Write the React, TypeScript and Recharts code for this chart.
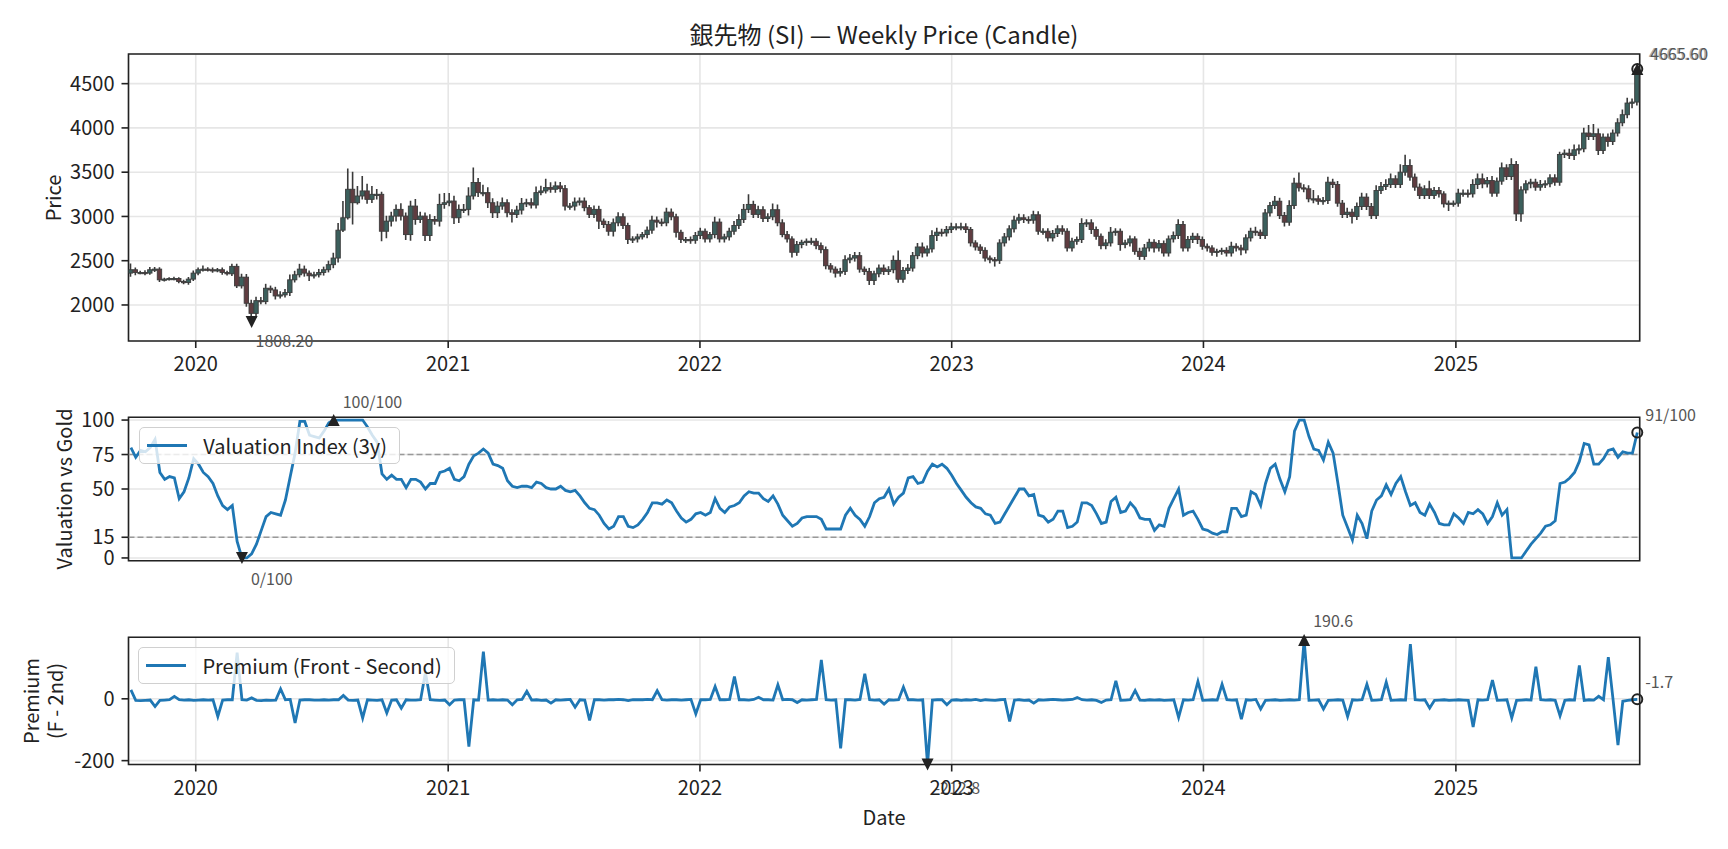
import React from "react";
import {
  ComposedChart, Bar, Line, XAxis, YAxis, CartesianGrid,
  ReferenceLine, ReferenceDot, ReferenceArea, Legend,
} from "recharts";

const FONT = '"Noto Sans CJK JP", "Noto Sans", sans-serif';
const BLUE = "#1f77b4";
const INK = "#222222";
const NOTE = "#555555";

// first weekly bar and the year ticks
const START = Date.UTC(2019, 8, 29);
const WEEK_MS = 7 * 24 * 3600 * 1000;
const YEARS = [2020, 2021, 2022, 2023, 2024, 2025];

const FIRST_OPEN = 2360;

// weekly closes (front month)
const closes = [
  2398, 2367, 2367, 2360, 2398, 2405, 2284, 2292, 2299, 2299,
  2265, 2254, 2292, 2360, 2398, 2405, 2398, 2390, 2398, 2367,
  2352, 2436, 2216, 2314, 2019, 1905, 2049, 2038, 2189, 2170,
  2102, 2114, 2140, 2284, 2341, 2405, 2360, 2330, 2341, 2367,
  2398, 2455, 2530, 2845, 2985, 3307, 3155, 3231, 3288, 3193,
  3250, 3250, 2833, 2947, 3004, 3080, 3004, 2795, 3117, 2966,
  3004, 2784, 2966, 2947, 3136, 3155, 3174, 2985, 3080, 3080,
  3231, 3383, 3269, 3269, 3155, 3042, 3117, 3155, 3042, 3023,
  3072, 3148, 3155, 3129, 3269, 3288, 3326, 3307, 3345, 3314,
  3117, 3117, 3163, 3174, 3099, 3023, 3080, 2947, 2909, 2833,
  2928, 2996, 2898, 2739, 2746, 2769, 2795, 2845, 2958, 2936,
  2928, 3049, 2996, 2821, 2739, 2739, 2731, 2784, 2833, 2746,
  2795, 2936, 2746, 2769, 2833, 2898, 2966, 3080, 3136, 3023,
  3076, 2977, 2996, 3076, 2928, 2795, 2746, 2595, 2682, 2708,
  2720, 2720, 2670, 2625, 2443, 2405, 2360, 2379, 2511, 2530,
  2557, 2405, 2379, 2276, 2352, 2417, 2379, 2398, 2504, 2291,
  2390, 2417, 2557, 2655, 2587, 2633, 2784, 2822, 2814, 2852,
  2883, 2883, 2883, 2852, 2701, 2655, 2617, 2530, 2511, 2504,
  2701, 2769, 2860, 2958, 2985, 2966, 2958, 3019, 2833, 2833,
  2758, 2807, 2860, 2833, 2644, 2720, 2739, 2920, 2928, 2852,
  2776, 2670, 2701, 2822, 2833, 2682, 2701, 2746, 2606, 2549,
  2644, 2708, 2644, 2693, 2587, 2746, 2784, 2909, 2644, 2739,
  2776, 2739, 2663, 2644, 2595, 2606, 2617, 2587, 2663, 2644,
  2622, 2758, 2833, 2822, 2784, 3040, 3123, 3172, 3010, 2935,
  3123, 3376, 3323, 3312, 3199, 3199, 3172, 3180, 3387, 3361,
  3150, 3022, 3048, 2999, 3112, 3218, 3112, 3010, 3293, 3338,
  3361, 3425, 3361, 3500, 3576, 3444, 3331, 3237, 3312, 3237,
  3293, 3255, 3142, 3150, 3150, 3263, 3263, 3255, 3361, 3425,
  3368, 3406, 3263, 3399, 3549, 3451, 3587, 3029, 3300, 3369,
  3387, 3331, 3361, 3369, 3436, 3387, 3700, 3715, 3689, 3753,
  3764, 3942, 3904, 3934, 3745, 3896, 3847, 3942, 4058, 4149,
  4281, 4292, 4665.6,
];

// upper / lower shadow length beyond the body
const wickHi = [
  70, 25, 20, 25, 30, 25, 20, 15, 15, 20,
  15, 20, 25, 30, 25, 40, 20, 25, 20, 25,
  20, 30, 30, 40, 35, 40, 45, 40, 50, 30,
  35, 40, 40, 60, 45, 60, 40, 30, 35, 40,
  35, 45, 60, 80, 190, 235, 197, 114, 170, 80,
  95, 60, 30, 60, 50, 55, 70, 40, 60, 80,
  50, 40, 60, 40, 120, 110, 90, 60, 55, 60,
  100, 170, 50, 90, 60, 50, 55, 60, 40, 40,
  50, 60, 45, 50, 70, 60, 100, 60, 50, 45,
  40, 35, 50, 40, 40, 30, 45, 40, 30, 40,
  50, 50, 40, 30, 30, 35, 30, 40, 50, 40,
  40, 50, 40, 35, 30, 30, 35, 40, 40, 30,
  30, 60, 40, 35, 40, 50, 60, 60, 115, 40,
  45, 40, 40, 70, 60, 40, 40, 30, 40, 30,
  30, 40, 35, 35, 35, 30, 30, 40, 50, 45,
  40, 40, 30, 40, 35, 40, 40, 40, 55, 110,
  40, 45, 40, 45, 50, 40, 60, 50, 40, 40,
  45, 40, 45, 40, 30, 30, 30, 35, 30, 30,
  40, 45, 40, 50, 45, 40, 35, 45, 40, 35,
  35, 40, 40, 40, 35, 40, 35, 60, 40, 40,
  35, 30, 40, 60, 35, 30, 35, 40, 30, 40,
  45, 40, 35, 40, 35, 40, 45, 60, 40, 40,
  40, 35, 35, 30, 30, 30, 30, 35, 50, 35,
  35, 40, 40, 50, 30, 45, 40, 60, 40, 40,
  60, 60, 120, 40, 40, 100, 40, 40, 60, 40,
  40, 35, 50, 40, 45, 50, 45, 40, 60, 50,
  60, 60, 40, 90, 120, 70, 40, 40, 40, 90,
  40, 40, 30, 30, 30, 50, 40, 40, 60, 60,
  60, 40, 50, 40, 60, 40, 70, 40, 40, 40,
  40, 40, 50, 40, 40, 40, 30, 40, 50, 60,
  50, 60, 90, 110, 60, 40, 40, 40, 50, 60,
  60, 40, 15,
];

const wickLo = [
  40, 30, 20, 25, 20, 25, 25, 20, 15, 20,
  20, 20, 25, 20, 25, 20, 20, 25, 20, 25,
  20, 25, 25, 30, 40, 96.8, 50, 30, 30, 35,
  40, 30, 30, 40, 30, 30, 40, 60, 30, 30,
  35, 30, 40, 50, 20, 19, 246, 20, 40, 50,
  40, 60, 113, 80, 60, 60, 50, 60, 70, 60,
  40, 60, 60, 40, 60, 50, 40, 70, 60, 40,
  70, 40, 50, 40, 60, 60, 60, 40, 50, 90,
  40, 50, 40, 40, 40, 30, 30, 40, 40, 40,
  50, 40, 50, 40, 40, 40, 40, 90, 40, 50,
  60, 40, 40, 50, 40, 40, 30, 40, 40, 60,
  40, 40, 40, 60, 40, 40, 40, 40, 40, 40,
  40, 40, 40, 40, 40, 40, 40, 40, 40, 40,
  40, 40, 40, 40, 40, 30, 40, 60, 40, 40,
  40, 40, 40, 40, 40, 40, 50, 40, 40, 40,
  40, 40, 40, 50, 50, 40, 40, 40, 40, 40,
  40, 40, 40, 40, 50, 40, 40, 60, 40, 40,
  40, 40, 40, 40, 40, 40, 40, 40, 40, 70,
  40, 40, 40, 40, 40, 40, 40, 40, 40, 40,
  40, 40, 40, 40, 40, 40, 40, 40, 40, 50,
  40, 40, 40, 40, 40, 70, 40, 40, 40, 40,
  40, 40, 50, 40, 40, 40, 40, 40, 40, 40,
  40, 50, 40, 40, 40, 50, 40, 40, 40, 40,
  60, 40, 40, 40, 40, 40, 40, 40, 40, 50,
  40, 40, 40, 40, 40, 50, 40, 40, 40, 40,
  40, 40, 40, 80, 40, 40, 40, 40, 40, 40,
  40, 40, 40, 40, 40, 40, 40, 40, 40, 40,
  40, 40, 40, 80, 40, 40, 40, 40, 40, 50,
  50, 40, 40, 40, 40, 40, 40, 80, 90, 40,
  50, 40, 40, 40, 40, 40, 40, 40, 40, 50,
  50, 40, 40, 40, 50, 40, 60, 40, 40, 40,
  40, 60, 40,
];

// 3y valuation index vs gold (0-100)
const valuation = [
  80, 73, 78, 77, 80, 86, 62, 57, 59, 58,
  43, 48, 58, 72, 68, 62, 59, 54, 45, 38,
  35, 38, 12, 0, 0, 3, 10, 20, 30, 33,
  32, 31, 42, 59, 76, 99, 99, 89, 88, 87,
  92, 98, 100, 100, 100, 100, 100, 100, 100, 95,
  89, 84, 61, 57, 60, 57, 57, 51, 57, 57,
  55, 50, 54, 54, 62, 63, 65, 57, 56, 59,
  68, 74, 76, 79, 76, 68, 67, 65, 56, 52,
  51, 52, 52, 51, 55, 54, 51, 50, 50, 52,
  49, 48, 49, 45, 40, 36, 35, 31, 25, 21,
  23, 30, 30, 23, 22, 24, 28, 33, 40, 40,
  39, 42, 40, 34, 29, 26, 28, 32, 33, 31,
  33, 43, 36, 33, 37, 38, 40, 45, 48, 47,
  47, 43, 41, 45, 39, 31, 27, 23, 25, 29,
  30, 30, 30, 28, 21, 21, 21, 21, 31, 36,
  31, 28, 23, 30, 40, 43, 44, 50, 39, 44,
  47, 58, 59, 54, 55, 63, 68, 66, 68, 65,
  60, 54, 49, 44, 40, 37, 36, 32, 31, 25,
  26, 32, 38, 44, 50, 50, 45, 46, 31, 30,
  26, 28, 34, 34, 22, 23, 26, 40, 40, 38,
  32, 25, 26, 41, 44, 33, 34, 40, 36, 29,
  28, 28, 20, 24, 23, 36, 43, 50, 31, 33,
  34, 28, 21, 20, 18, 17, 19, 19, 36, 36,
  30, 31, 48, 46, 38, 54, 65, 68, 57, 48,
  59, 92, 100, 100, 88, 79, 78, 71, 84, 76,
  54, 31, 22, 13, 31, 25, 14, 34, 42, 45,
  53, 46, 54, 59, 48, 38, 40, 33, 31, 39,
  33, 25, 24, 24, 32, 29, 25, 33, 32, 35,
  32, 25, 30, 40, 31, 35, 0, 0, 0, 5,
  10, 14, 18, 23, 24, 27, 54, 55, 58, 62,
  70, 83, 82, 68, 68, 72, 78, 79, 73, 77,
  76, 76, 91,
];

// front minus second contract
const premium = [
  29, -5, -6, -5, -4, -25, -5, -4, -3, 8,
  -3, -4, -3, -5, -4, -3, -4, -3, -57, -4,
  -3, -3, 149, -3, -4, 3, -5, -6, -4, -5,
  -4, 32, -3, -2, -78, -4, -3, -3, -4, -4,
  -3, -4, -3, -3, 11, -4, -5, -4, -62, -3,
  -4, -5, -3, -46, -4, -3, -30, -3, -4, -4,
  -3, 85, -3, -4, -5, -4, -19, -4, -3, -3,
  -155, -3, -4, 153, -4, -3, -4, -3, -4, -19,
  -3, -2, 24, -4, -3, -5, -4, -14, -3, -4,
  -3, -2, -27, -3, -4, -70, -3, -3, -4, -3,
  -3, -2, -3, -6, -3, -3, -3, -2, -3, 26,
  -3, -4, -3, -3, -4, -3, -2, -49, -3, -3,
  -2, 40, -3, -3, -2, 72, -3, -3, -4, -2,
  5, -3, -3, -4, 45, -3, -2, -3, -12, -3,
  -4, -3, -2, 126, -3, -4, -3, -160, -3, -3,
  -4, -2, 81, -3, -4, -3, -17, -3, -4, -3,
  38, -3, -3, -4, -3, -212.8, -4, -3, -3, -19,
  -4, -3, -5, -3, -4, -2, -6, -3, -4, -5,
  -3, -2, -73, -4, -3, -5, -4, -14, -3, -4,
  -3, -2, -3, -4, -3, -2, 4, -3, -4, -3,
  -5, -12, -4, -3, 58, -5, -4, -3, 27, -4,
  -5, -3, -4, -3, -5, -4, -3, -60, -3, -4,
  -3, 56, -5, -4, -3, -4, 47, -3, -4, -3,
  -66, -3, -4, -2, -33, -5, -4, -3, -5, -4,
  -3, -4, -3, 190.6, -5, -4, -3, -33, -5, -4,
  -3, -4, -57, -3, -4, -3, 47, -5, -4, -3,
  54, -5, -4, -3, -4, 177, -3, -4, -3, -30,
  -5, -4, -3, -5, -4, -3, -4, -5, -91, -3,
  -4, -3, 61, -5, -4, -3, -62, -5, -4, -3,
  -4, 104, -3, -4, -3, -5, -55, -5, -3, -4,
  108, -5, -3, -4, 8, -3, 135, -5, -150, -8,
  -5, -3, -1.7,
];

const priceTicks = [2000, 2500, 3000, 3500, 4000, 4500];
const valTicks = [0, 15, 50, 75, 100];
const premTicks = [-200, 0];
const PRICE_DOMAIN = [1593, 4835];
const VAL_DOMAIN = [-2, 102];
const PREM_DOMAIN = [-212.5, 199];

const rows = closes.map((close, i) => {
  const open = i === 0 ? FIRST_OPEN : closes[i - 1];
  const high = Math.max(open, close) + wickHi[i];
  const low = Math.min(open, close) - wickLo[i];
  return { i, open, close, high, low, range: [low, high], val: valuation[i], prem: premium[i] };
});

const last = rows.length - 1;
const X_DOMAIN = [-0.5, last + 0.5];
const yearTicks = YEARS.map((y) => (Date.UTC(y, 0, 1) - START) / WEEK_MS);

const argBy = (arr: number[], better: (a: number, b: number) => boolean) =>
  arr.reduce((best, v, i) => (better(v, arr[best]) ? i : best), 0);

const lowIdx = argBy(rows.map((r) => r.low), (a, b) => a < b);
const valMaxIdx = argBy(valuation, (a, b) => a > b);
const valMinIdx = argBy(valuation, (a, b) => a < b);
const premMaxIdx = argBy(premium, (a, b) => a > b);
const premMinIdx = argBy(premium, (a, b) => a < b);

const W = 1728;
const Y_AXIS_W = 128.5;
const RIGHT = 88.3;

const tickStyle = { fontSize: 20, fill: INK, fontFamily: FONT };
const tickLine = { stroke: INK, strokeWidth: 1.6 };

const Candle = (props: any) => {
  const { x, y, width, height, payload } = props;
  if (!payload) return null;
  const top = Math.min(y, y + height);
  const h = Math.abs(height);
  const span = payload.high - payload.low || 1;
  const py = (v: number) => top + ((payload.high - v) / span) * h;
  const cx = x + width / 2;
  const yo = py(payload.open);
  const yc = py(payload.close);
  const up = payload.close >= payload.open;
  return (
    <g>
      <line x1={cx} x2={cx} y1={top} y2={top + h} stroke="#3a3a3a" strokeWidth={1.6} />
      <rect
        x={cx - 2.2}
        y={Math.min(yo, yc)}
        width={4.4}
        height={Math.max(Math.abs(yo - yc), 1.2)}
        fill={up ? "#3b5f5c" : "#5f3c40"}
        stroke="#3c3c3c"
        strokeWidth={0.9}
      />
    </g>
  );
};

type Kind = "up" | "down" | "ring";

const marker = (kind: Kind, text: string, dx: number, dy: number, ghost = false) => (props: any) => {
  const { cx, cy } = props;
  let mark;
  if (kind === "up") {
    mark = <path d={`M${cx},${cy - 6} L${cx + 6},${cy + 6} L${cx - 6},${cy + 6} Z`} fill={INK} />;
  } else if (kind === "down") {
    mark = <path d={`M${cx},${cy + 6} L${cx + 6},${cy - 6} L${cx - 6},${cy - 6} Z`} fill={INK} />;
  } else {
    mark = <circle cx={cx} cy={cy} r={5} fill="none" stroke={INK} strokeWidth={2} />;
  }
  return (
    <g>
      {mark}
      {ghost && (
        <text x={cx + dx - 1.5} y={cy + dy} fontSize={16} fill="#aaaaaa" fontFamily={FONT} dominantBaseline="central">
          {text}
        </text>
      )}
      <text x={cx + dx} y={cy + dy} fontSize={16} fill={NOTE} fontFamily={FONT} dominantBaseline="central">
        {text}
      </text>
    </g>
  );
};

const LegendBox = ({ label }: { label: string }) => (
  <div
    style={{
      display: "flex",
      alignItems: "center",
      border: "1.5px solid #d0d0d0",
      borderRadius: 5,
      background: "rgba(255,255,255,0.8)",
      padding: "3px 12px 3px 7px",
      fontFamily: FONT,
      fontSize: 20,
      color: INK,
      whiteSpace: "nowrap",
      lineHeight: "29px",
    }}
  >
    <span style={{ display: "inline-block", width: 40, height: 3, background: BLUE, marginRight: 16 }} />
    {label}
  </div>
);

const Txt = ({ x, y, size = 20, rotate = false, children }: any) => (
  <div
    style={{
      position: "absolute",
      left: x,
      top: y,
      transform: `translate(-50%, -50%)${rotate ? " rotate(-90deg)" : ""}`,
      fontFamily: FONT,
      fontSize: size,
      color: INK,
      whiteSpace: "nowrap",
      lineHeight: 1.2,
      textAlign: "center",
    }}
  >
    {children}
  </div>
);

const xAxisProps = {
  dataKey: "i",
  type: "number" as const,
  domain: X_DOMAIN,
  ticks: yearTicks,
  interval: 0 as const,
  allowDataOverflow: true,
  axisLine: false,
  tickLine,
  tickSize: 7,
};

const box = (domain: number[]) => (
  <ReferenceArea
    x1={X_DOMAIN[0]}
    x2={X_DOMAIN[1]}
    y1={domain[0]}
    y2={domain[1]}
    fill="none"
    fillOpacity={0}
    stroke={INK}
    strokeWidth={1.6}
    ifOverflow="visible"
  />
);

export default function App() {
  return (
    <div style={{ position: "relative", width: W, height: 849, background: "#fff", overflow: "hidden" }}>
      <style>{`body{margin:0}`}</style>

      <Txt x={884} y={34} size={24}>銀先物 (SI) — Weekly Price (Candle)</Txt>

      <div style={{ position: "absolute", left: 0, top: 0 }}>
        <ComposedChart width={W} height={380} data={rows} margin={{ top: 54, right: RIGHT, bottom: 0, left: 0 }}>
          <CartesianGrid stroke="#e6e6e6" strokeWidth={1.6} />
          <XAxis
            {...xAxisProps}
            height={39}
            tickMargin={9}
            tick={tickStyle}
            tickFormatter={(_v: number, k: number) => String(YEARS[k])}
          />
          <YAxis
            type="number"
            domain={PRICE_DOMAIN}
            ticks={priceTicks}
            interval={0}
            allowDataOverflow
            width={Y_AXIS_W}
            axisLine={false}
            tickLine={tickLine}
            tickSize={7}
            tickMargin={7}
            tick={tickStyle}
          />
          <Bar dataKey="range" barSize={4} shape={Candle} isAnimationActive={false} />
          {box(PRICE_DOMAIN)}
          <ReferenceDot x={lowIdx} y={rows[lowIdx].low} ifOverflow="visible" shape={marker("down", rows[lowIdx].low.toFixed(2), 4, 18)} />
          <ReferenceDot x={last} y={closes[last]} ifOverflow="visible" shape={marker("up", closes[last].toFixed(2), 13, -16, true)} />
          <ReferenceDot x={last} y={closes[last]} ifOverflow="visible" shape={marker("ring", "", 0, 0)} />
        </ComposedChart>
      </div>

      <div style={{ position: "absolute", left: 0, top: 380 }}>
        <ComposedChart width={W} height={220} data={rows} margin={{ top: 37.3, right: RIGHT, bottom: 20, left: 0 }}>
          <CartesianGrid stroke="#e6e6e6" strokeWidth={1.6} />
          <XAxis {...xAxisProps} height={19.3} tick={false} />
          <YAxis
            type="number"
            domain={VAL_DOMAIN}
            ticks={valTicks}
            interval={0}
            allowDataOverflow
            width={Y_AXIS_W}
            axisLine={false}
            tickLine={tickLine}
            tickSize={7}
            tickMargin={7}
            tick={tickStyle}
          />
          <ReferenceLine y={75} stroke="#999999" strokeWidth={1.6} strokeDasharray="6 3" />
          <ReferenceLine y={15} stroke="#999999" strokeWidth={1.6} strokeDasharray="6 3" />
          <Line dataKey="val" type="linear" stroke={BLUE} strokeWidth={2.8} dot={false} isAnimationActive={false} />
          {box(VAL_DOMAIN)}
          <ReferenceDot x={valMaxIdx} y={valuation[valMaxIdx]} ifOverflow="visible" shape={marker("up", `${valuation[valMaxIdx]}/100`, 9, -19)} />
          <ReferenceDot x={valMinIdx} y={valuation[valMinIdx]} ifOverflow="visible" shape={marker("down", `${valuation[valMinIdx]}/100`, 9, 20)} />
          <ReferenceDot x={last} y={valuation[last]} ifOverflow="visible" shape={marker("ring", `${valuation[last]}/100`, 8, -18)} />
          <Legend
            layout="vertical"
            align="center"
            verticalAlign="middle"
            wrapperStyle={{ left: 139.3, top: 46.7, width: "auto", height: "auto" }}
            content={() => <LegendBox label="Valuation Index (3y)" />}
          />
        </ComposedChart>
      </div>

      <div style={{ position: "absolute", left: 0, top: 600 }}>
        <ComposedChart width={W} height={249} data={rows} margin={{ top: 37.3, right: RIGHT, bottom: 44.5, left: 0 }}>
          <CartesianGrid stroke="#e6e6e6" strokeWidth={1.6} />
          <XAxis
            {...xAxisProps}
            height={40}
            tickMargin={9}
            tick={tickStyle}
            tickFormatter={(_v: number, k: number) => String(YEARS[k])}
          />
          <YAxis
            type="number"
            domain={PREM_DOMAIN}
            ticks={premTicks}
            interval={0}
            allowDataOverflow
            width={Y_AXIS_W}
            axisLine={false}
            tickLine={tickLine}
            tickSize={7}
            tickMargin={7}
            tick={tickStyle}
          />
          <Line dataKey="prem" type="linear" stroke={BLUE} strokeWidth={2.8} dot={false} isAnimationActive={false} />
          {box(PREM_DOMAIN)}
          <ReferenceDot x={premMaxIdx} y={premium[premMaxIdx]} ifOverflow="visible" shape={marker("up", premium[premMaxIdx].toFixed(1), 9, -20)} />
          <ReferenceDot x={premMinIdx} y={premium[premMinIdx]} ifOverflow="visible" shape={marker("down", premium[premMinIdx].toFixed(1), 7, 22)} />
          <ReferenceDot x={last} y={premium[last]} ifOverflow="visible" shape={marker("ring", premium[last].toFixed(1), 8, -18)} />
          <Legend
            layout="vertical"
            align="center"
            verticalAlign="middle"
            wrapperStyle={{ left: 138.4, top: 46.7, width: "auto", height: "auto" }}
            content={() => <LegendBox label="Premium (Front - Second)" />}
          />
        </ComposedChart>
      </div>

      <Txt x={53} y={197.5} rotate>Price</Txt>
      <Txt x={63.5} y={489} rotate>Valuation vs Gold</Txt>
      <Txt x={43} y={701} rotate>
        Premium
        <br />
        (F - 2nd)
      </Txt>
      <Txt x={884} y={817}>Date</Txt>
    </div>
  );
}
